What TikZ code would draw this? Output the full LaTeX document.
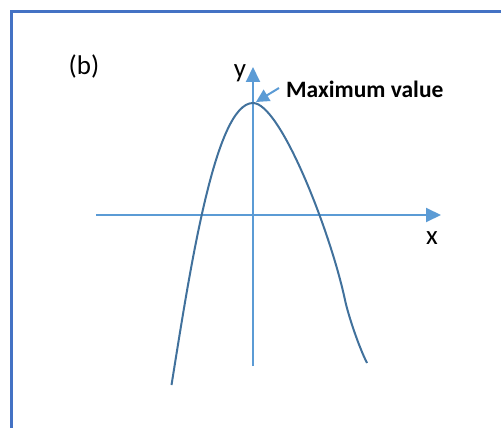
\documentclass[tikz,border=0pt]{standalone}
\usepackage{fontspec}
\setmainfont{Carlito}
\usetikzlibrary{arrows.meta}
\definecolor{framecol}{HTML}{4472C4}
\definecolor{axiscol}{HTML}{5B9BD5}
\definecolor{curvecol}{HTML}{41719C}
\tikzset{
  axisline/.style={draw=axiscol, line width=2pt, -{Triangle[length=15pt,width=14pt]}},
  pointer/.style={draw=axiscol, line width=2pt, -{Triangle[length=13pt,width=13pt]}},
  curveline/.style={draw=curvecol, line width=2pt},
  framebox/.style={draw=framecol, line width=3pt},
  lbl/.style={inner sep=0pt, font=\fontsize{27}{30}\selectfont},
  annot/.style={inner sep=0pt, anchor=west, font=\fontsize{23.5}{26}\selectfont\bfseries}
}
\begin{document}
\begin{tikzpicture}[x=1pt,y=-1pt]
\useasboundingbox (0,0) rectangle (501,428);
\draw[framebox] (11,430) -- (11,12) -- (503,12);
% axes
\coordinate (xs) at (96,215);
\coordinate (xe) at (441,215);
\coordinate (ys) at (253,366);
\coordinate (ye) at (253,67);
\draw[axisline] (xs) -- (xe);
\draw[axisline] (ys) -- (ye);
% curve
\coordinate (c0) at (171.5,385);
\coordinate (top) at (253,103);
\coordinate (c2) at (345,300);
\coordinate (c3) at (367,363);
\draw[curveline] (c0) .. controls (190,270) and (215,103) .. (top)
  .. controls (280,103) and (330,230) .. (c2)
  .. controls (348,314) and (358,345) .. (c3);
% labels
\node[lbl] (b) at (84,66) {(b)};
\node[lbl] (ylab) at (240,73) {y};
\node[lbl] (xlab) at (432,238) {x};
\node[annot] (max) at (286,89) {Maximum value};
\coordinate (peak) at (256,102);
\coordinate (ptail) at (279,88);
\draw[pointer] (ptail) -- (peak);
\end{tikzpicture}
\end{document}
